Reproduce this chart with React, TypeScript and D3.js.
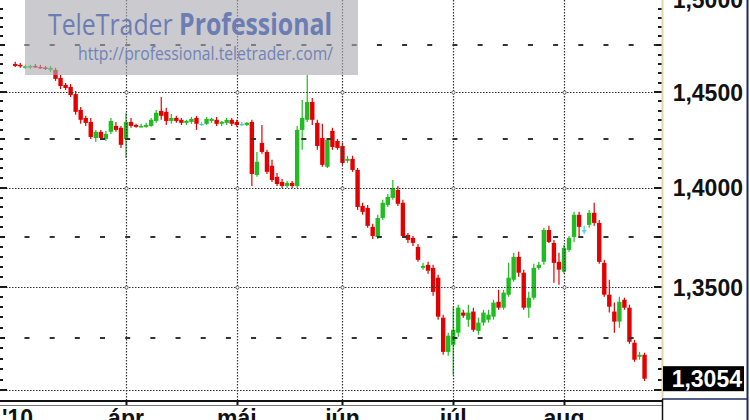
import * as d3 from "d3";
import React, { useEffect, useRef } from "react";

// daily candles, first candle = 2 Mar 2010, last = 24 Aug 2010
const opens = [
  1.465, 1.4645, 1.4631, 1.4634, 1.4639, 1.4634, 1.4631, 1.4618, 1.4618, 1.4575,
  1.4538, 1.4527, 1.4489, 1.4405, 1.4363, 1.4342, 1.4258, 1.429, 1.4253, 1.429,
  1.4321, 1.4311, 1.4253, 1.4342, 1.4326, 1.4316, 1.4316, 1.4321, 1.4347, 1.44,
  1.4395, 1.4347, 1.4363, 1.4353, 1.4337, 1.4342, 1.4363, 1.4332, 1.4332, 1.4347,
  1.4353, 1.4332, 1.4337, 1.4353, 1.4342, 1.4332, 1.4326, 1.4342, 1.4066, 1.4232,
  1.4185, 1.4113, 1.4056, 1.403, 1.4009, 1.4025, 1.4009, 1.43, 1.4353, 1.4447,
  1.4337, 1.4258, 1.4108, 1.4295, 1.4242, 1.4216, 1.4139, 1.4149, 1.4092, 1.3907,
  1.3897, 1.3801, 1.375, 1.3846, 1.3912, 1.3948, 1.3989, 1.3923, 1.376, 1.3745,
  1.37, 1.3595, 1.361, 1.3595, 1.3546, 1.3349, 1.3183, 1.3217, 1.3276, 1.3374,
  1.3339, 1.3379, 1.3285, 1.3325, 1.3339, 1.3354, 1.3427, 1.3398, 1.3462, 1.3536,
  1.365, 1.3571, 1.3398, 1.3447, 1.3595, 1.3625, 1.3785, 1.372, 1.3625, 1.3576,
  1.3685, 1.375, 1.3862, 1.3785, 1.3811, 1.3872, 1.3821, 1.362, 1.3462, 1.3379,
  1.333, 1.3437, 1.3398, 1.3227, 1.3159, 1.3169,
];
const highs = [
  1.4661, 1.4655, 1.4645, 1.4645, 1.465, 1.4645, 1.4639, 1.4639, 1.4629, 1.4591,
  1.4548, 1.4543, 1.4505, 1.4421, 1.4374, 1.4363, 1.43, 1.43, 1.4295, 1.4363,
  1.4342, 1.4321, 1.439, 1.4363, 1.4332, 1.4332, 1.4337, 1.4363, 1.4405, 1.4474,
  1.4416, 1.4384, 1.4374, 1.4363, 1.4353, 1.4368, 1.4374, 1.4342, 1.4368, 1.4363,
  1.4368, 1.4347, 1.4363, 1.4363, 1.4353, 1.4342, 1.4342, 1.4353, 1.4185, 1.4326,
  1.4196, 1.4144, 1.4076, 1.4045, 1.4035, 1.4035, 1.4321, 1.4458, 1.4591, 1.4468,
  1.4353, 1.4332, 1.4258, 1.4311, 1.4253, 1.4232, 1.4165, 1.4165, 1.4102, 1.3923,
  1.3912, 1.3816, 1.3862, 1.3938, 1.3968, 1.404, 1.4009, 1.3938, 1.377, 1.3755,
  1.3715, 1.362, 1.3625, 1.361, 1.3561, 1.3364, 1.3276, 1.3403, 1.3413, 1.3388,
  1.3413, 1.3398, 1.3349, 1.3388, 1.3388, 1.3437, 1.3486, 1.3486, 1.362, 1.367,
  1.3675, 1.3586, 1.3476, 1.3615, 1.3625, 1.3796, 1.3806, 1.3735, 1.367, 1.371,
  1.3755, 1.3877, 1.3877, 1.3806, 1.3887, 1.3923, 1.3836, 1.3635, 1.3536, 1.3423,
  1.3452, 1.3447, 1.3413, 1.3241, 1.3183, 1.3179,
];
const lows = [
  1.4634, 1.4629, 1.4623, 1.4623, 1.4629, 1.4623, 1.4618, 1.4607, 1.4559, 1.4516,
  1.4511, 1.4474, 1.4379, 1.4332, 1.4321, 1.4253, 1.4237, 1.4247, 1.4242, 1.4279,
  1.429, 1.4206, 1.4154, 1.4311, 1.4311, 1.4311, 1.4311, 1.4316, 1.4337, 1.4353,
  1.4326, 1.4332, 1.4337, 1.4326, 1.4326, 1.4332, 1.43, 1.4321, 1.4326, 1.4337,
  1.4321, 1.4321, 1.4326, 1.4321, 1.4316, 1.4321, 1.4321, 1.4009, 1.4056, 1.4175,
  1.4071, 1.403, 1.4009, 1.3999, 1.3999, 1.3999, 1.3999, 1.4196, 1.4342, 1.4326,
  1.4196, 1.4108, 1.4102, 1.4196, 1.4196, 1.4118, 1.4128, 1.4082, 1.3887, 1.3862,
  1.3796, 1.374, 1.374, 1.3836, 1.3902, 1.3938, 1.3907, 1.3745, 1.372, 1.3705,
  1.3625, 1.3586, 1.3566, 1.3457, 1.3339, 1.3169, 1.3164, 1.3072, 1.3256, 1.3349,
  1.3305, 1.328, 1.3266, 1.331, 1.3325, 1.3339, 1.3388, 1.3388, 1.3452, 1.3526,
  1.3551, 1.3388, 1.3349, 1.3437, 1.3586, 1.361, 1.372, 1.3521, 1.3511, 1.3566,
  1.3675, 1.3725, 1.375, 1.3765, 1.3796, 1.3806, 1.3615, 1.3452, 1.3374, 1.3276,
  1.33, 1.3388, 1.3222, 1.3135, 1.3145, 1.3043,
];
const closes = [
  1.4639, 1.4637, 1.4637, 1.4639, 1.4631, 1.4629, 1.4626, 1.4629, 1.457, 1.4532,
  1.4521, 1.4484, 1.4395, 1.4353, 1.4337, 1.4263, 1.429, 1.4258, 1.4279, 1.4347,
  1.43, 1.4222, 1.4342, 1.4321, 1.4316, 1.4321, 1.4326, 1.4353, 1.439, 1.4374,
  1.4347, 1.4363, 1.4347, 1.4337, 1.4347, 1.4358, 1.4332, 1.4332, 1.4358, 1.4358,
  1.4332, 1.4342, 1.4353, 1.4332, 1.4326, 1.4332, 1.4337, 1.4071, 1.4134, 1.4185,
  1.4082, 1.404, 1.4019, 1.4009, 1.4025, 1.4009, 1.43, 1.4363, 1.4447, 1.4353,
  1.4216, 1.4118, 1.4247, 1.4211, 1.4206, 1.4128, 1.4149, 1.4092, 1.3902, 1.3877,
  1.3806, 1.3755, 1.3846, 1.3923, 1.3953, 1.3999, 1.3918, 1.3755, 1.3735, 1.372,
  1.3635, 1.3605, 1.3581, 1.3476, 1.3354, 1.3183, 1.3261, 1.329, 1.3398, 1.3359,
  1.3374, 1.329, 1.3325, 1.3374, 1.3364, 1.3423, 1.3398, 1.3472, 1.3546, 1.365,
  1.3571, 1.3398, 1.3447, 1.3595, 1.361, 1.3785, 1.3725, 1.362, 1.3586, 1.3695,
  1.3745, 1.3862, 1.3801, 1.3785, 1.3872, 1.3821, 1.3625, 1.3462, 1.3403, 1.333,
  1.3427, 1.3398, 1.3232, 1.3145, 1.3169, 1.3054,
];

const monthLabels = ["'10", "ápr", "máj", "jún", "júl", "aug"];
const monthStarts = [0, 22, 44, 65, 87, 109]; // candle index of the first day of each month
const priceTicks = [1.3, 1.35, 1.4, 1.45, 1.5];
const halfTicks = [1.325, 1.375, 1.425, 1.475];
const lastPrice = 1.3054;

const fmt = (v: number) => d3.format(".4f")(v).replace(".", ",");

export default function App() {
  const svgRef = useRef<SVGSVGElement | null>(null);

  useEffect(() => {
    if (!svgRef.current) return;

    const width = 750;
    const height = 420;
    const plotRight = 662;
    const plotBottom = 400;
    const axisFont = "'Liberation Sans', Arial, sans-serif";

    const x = d3.scaleLinear().domain([monthStarts[1], monthStarts[5]]).range([126, 564]);
    const y = d3.scaleLog().domain([1.3, 1.45]).range([390, 92]);

    const data = opens.map((o, i) => ({ i, o, h: highs[i], l: lows[i], c: closes[i] }));
    type Candle = (typeof data)[number];
    const color = (d: Candle) => (d.c > d.o ? "#1fbd1f" : d.c < d.o ? "#e20000" : "#3fd6dc");

    const svg = d3.select(svgRef.current);
    svg.selectAll("*").remove();

    svg.append("rect").attr("width", width).attr("height", height).attr("fill", "#fff");
    svg
      .append("defs")
      .append("clipPath")
      .attr("id", "plot")
      .append("rect")
      .attr("width", plotRight)
      .attr("height", plotBottom);

    // candles
    const candles = svg.append("g").attr("clip-path", "url(#plot)");
    candles
      .selectAll("line")
      .data(data)
      .join("line")
      .attr("x1", (d) => x(d.i))
      .attr("x2", (d) => x(d.i))
      .attr("y1", (d) => y(d.h))
      .attr("y2", (d) => y(d.l))
      .attr("stroke", color)
      .attr("stroke-width", 1.2);
    candles
      .selectAll("rect")
      .data(data)
      .join("rect")
      .attr("x", (d) => x(d.i) - 2.2)
      .attr("width", 4.4)
      .attr("y", (d) => Math.min(y(d.o), y(d.c)))
      .attr("height", (d) => Math.max(1.5, Math.abs(y(d.o) - y(d.c))))
      .attr("fill", color);

    // grid
    const grid = svg.append("g").attr("clip-path", "url(#plot)");
    const step = x(5) - x(0);
    grid
      .selectAll(".h")
      .data(priceTicks)
      .join("line")
      .attr("x1", 0)
      .attr("x2", plotRight)
      .attr("y1", (d) => Math.round(y(d)) + 0.5)
      .attr("y2", (d) => Math.round(y(d)) + 0.5)
      .attr("stroke", "#333")
      .attr("stroke-width", 1.2)
      .attr("stroke-dasharray", "1.5 1.5");
    grid
      .selectAll(".hd")
      .data(halfTicks)
      .join("line")
      .attr("x1", 24.5)
      .attr("x2", plotRight)
      .attr("y1", (d) => Math.round(y(d)))
      .attr("y2", (d) => Math.round(y(d)))
      .attr("stroke", "#333")
      .attr("stroke-width", 2)
      .attr("stroke-dasharray", `5 ${step - 5}`);
    grid
      .selectAll(".v")
      .data(monthStarts.slice(1))
      .join("line")
      .attr("x1", (d) => Math.round(x(d)) + 0.5)
      .attr("x2", (d) => Math.round(x(d)) + 0.5)
      .attr("y1", 0)
      .attr("y2", plotBottom)
      .attr("stroke", "#333")
      .attr("stroke-width", 1.2)
      .attr("stroke-dasharray", "1.5 1.5");
    const crosses = monthStarts.slice(1).flatMap((m) => priceTicks.slice(1, 4).map((p) => [m, p]));
    grid
      .selectAll("circle")
      .data(crosses)
      .join("circle")
      .attr("cx", (d) => Math.round(x(d[0])) + 0.5)
      .attr("cy", (d) => Math.round(y(d[1])) + 0.5)
      .attr("r", 1.6)
      .attr("fill", "#fff")
      .attr("stroke", "#444")
      .attr("stroke-width", 0.8);

    // logo
    const logo = svg.append("g");
    logo
      .append("rect")
      .attr("x", 25)
      .attr("y", -2)
      .attr("width", 333)
      .attr("height", 77)
      .attr("fill", "#a9a9b2")
      .attr("opacity", 0.62);
    const title = logo
      .append("text")
      .attr("x", 48)
      .attr("y", 35)
      .attr("font-family", "'Open Sans', sans-serif")
      .attr("font-size", 30)
      .attr("fill", "#6c7db3")
      .attr("textLength", 284)
      .attr("lengthAdjust", "spacingAndGlyphs");
    title.append("tspan").text("TeleTrader ");
    title.append("tspan").attr("font-weight", "bold").text("Professional");
    logo
      .append("text")
      .attr("x", 78)
      .attr("y", 60)
      .attr("font-family", "'Open Sans', sans-serif")
      .attr("font-size", 19)
      .attr("fill", "#7283b6")
      .attr("textLength", 255)
      .attr("lengthAdjust", "spacingAndGlyphs")
      .text("http://professional.teletrader.com/");

    // price axis ticks (right and left edges)
    const minor = d3.range(1.295, 1.5001, 0.005);
    const tickLen = (v: number) => {
      const r = Math.round(v * 1000);
      if (r % 50 === 0) return 8;
      if (r % 25 === 0) return 6;
      return 4;
    };
    const ticks = svg.append("g").attr("stroke", "#1a1a1a").attr("stroke-width", 2);
    ticks
      .selectAll(".r")
      .data(minor)
      .join("line")
      .attr("x1", (d) => plotRight - tickLen(d))
      .attr("x2", plotRight)
      .attr("y1", (d) => Math.round(y(d)))
      .attr("y2", (d) => Math.round(y(d)));
    ticks
      .selectAll(".l")
      .data(minor)
      .join("line")
      .attr("x1", 0)
      .attr("x2", (d) => tickLen(d) - 1)
      .attr("y1", (d) => Math.round(y(d)))
      .attr("y2", (d) => Math.round(y(d)));

    // right axis panel
    svg
      .append("line")
      .attr("x1", plotRight + 0.5)
      .attr("x2", plotRight + 0.5)
      .attr("y1", 0)
      .attr("y2", 398)
      .attr("stroke", "#e2d6a6")
      .attr("stroke-width", 2);
    svg
      .append("line")
      .attr("x1", 747.5)
      .attr("x2", 747.5)
      .attr("y1", 0)
      .attr("y2", height)
      .attr("stroke", "#1d2a66")
      .attr("stroke-width", 2);
    svg
      .append("line")
      .attr("x1", plotRight)
      .attr("x2", 748)
      .attr("y1", 399)
      .attr("y2", 399)
      .attr("stroke", "#1d2a66")
      .attr("stroke-width", 1.5);
    svg
      .append("line")
      .attr("x1", plotRight + 0.5)
      .attr("x2", plotRight + 0.5)
      .attr("y1", 399)
      .attr("y2", height)
      .attr("stroke", "#111")
      .attr("stroke-width", 1.5);

    const yLast = y(lastPrice);
    svg
      .append("g")
      .selectAll("text")
      .data(priceTicks.filter((v) => Math.abs(y(v) - yLast) > 22))
      .join("text")
      .attr("x", 743)
      .attr("y", (d) => y(d) + 8.5)
      .attr("text-anchor", "end")
      .attr("font-family", axisFont)
      .attr("font-weight", "bold")
      .attr("font-size", 23)
      .attr("fill", "#111")
      .text((d) => fmt(d));

    svg
      .append("rect")
      .attr("x", 663)
      .attr("y", yLast - 12.5)
      .attr("width", 81)
      .attr("height", 25)
      .attr("fill", "#000");
    svg
      .append("text")
      .attr("x", 742)
      .attr("y", yLast + 8.5)
      .attr("text-anchor", "end")
      .attr("font-family", axisFont)
      .attr("font-weight", "bold")
      .attr("font-size", 23)
      .attr("fill", "#fff")
      .text(fmt(lastPrice));

    // time axis
    svg
      .append("line")
      .attr("x1", 0)
      .attr("x2", plotRight)
      .attr("y1", 401)
      .attr("y2", 401)
      .attr("stroke", "#111")
      .attr("stroke-width", 2);
    svg
      .append("line")
      .attr("x1", 0)
      .attr("x2", plotRight)
      .attr("y1", 405.5)
      .attr("y2", 405.5)
      .attr("stroke", "#777")
      .attr("stroke-width", 1);
    svg
      .append("g")
      .selectAll("line")
      .data(monthStarts.slice(1))
      .join("line")
      .attr("x1", (d) => Math.round(x(d)) + 0.5)
      .attr("x2", (d) => Math.round(x(d)) + 0.5)
      .attr("y1", 402)
      .attr("y2", 405)
      .attr("stroke", "#111")
      .attr("stroke-width", 2);
    svg
      .append("g")
      .selectAll("text")
      .data(monthLabels)
      .join("text")
      .attr("x", (_, k) => (k === 0 ? 2 : x(monthStarts[k])))
      .attr("y", 426)
      .attr("text-anchor", (_, k) => (k === 0 ? "start" : "middle"))
      .attr("font-family", axisFont)
      .attr("font-weight", "bold")
      .attr("font-size", 23)
      .attr("fill", "#111")
      .text((d) => d);
  }, []);

  return (
    <svg
      ref={svgRef}
      width="750"
      height="420"
      style={{ position: "absolute", left: 0, top: 0, display: "block" }}
    />
  );
}
